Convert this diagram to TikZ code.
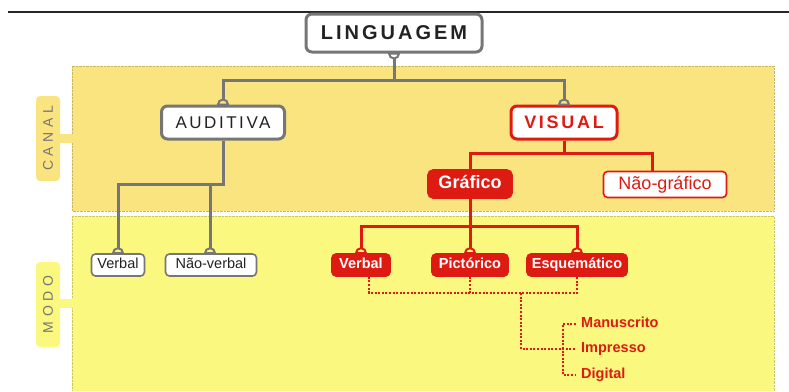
\documentclass[tikz,border=0pt]{standalone}
\usepackage{fontspec}
\setmainfont{Liberation Sans}
\newfontfamily\spaced[LetterSpace=15]{Liberation Sans}
\newfontfamily\widespaced[LetterSpace=32]{Liberation Sans}
\usetikzlibrary{positioning}

\definecolor{linegray}{HTML}{767676}
\definecolor{mapred}{HTML}{DE1B13}
\definecolor{canalfill}{HTML}{F9E480}
\definecolor{modofill}{HTML}{FAF87F}
\definecolor{inktext}{HTML}{222222}

\tikzset{
  gline/.style={draw=linegray, line width=3pt},
  rline/.style={draw=mapred, line width=3pt},
  rdots/.style={draw=mapred, line width=2pt, dash pattern=on 2pt off 1.6pt},
  bigbox/.style={draw=linegray, fill=white, rounded corners=6pt,
    line width=3pt, inner sep=0pt, text=inktext},
  leafbox/.style={draw=linegray, fill=white, rounded corners=4pt,
    line width=1.6pt, inner sep=0pt, minimum height=22pt, text=inktext,
    text height=10.5pt, text depth=3pt, font=\fontsize{14.5}{16}\selectfont},
  redleaf/.style={draw=mapred, fill=mapred, rounded corners=4pt,
    line width=1.6pt, inner sep=0pt, minimum height=22pt, text=white,
    text height=10.5pt, text depth=3pt, font=\fontsize{14.5}{16}\selectfont\bfseries},
  kind/.style={anchor=west, inner sep=0pt, text=mapred,
    text height=10.5pt, text depth=3pt, font=\fontsize{14.5}{16}\selectfont\bfseries},
  tab/.style={text=linegray, rotate=90, font=\widespaced\fontsize{14}{16}\selectfont}
}
% hollow joint on top of a child box
\newcommand\bumpup[3]{\draw[fill=#3, draw=#2, line width=2pt]
  (#1) ++(-5pt,0) arc[start angle=180, end angle=0, radius=5pt] -- cycle;}

\begin{document}
\begin{tikzpicture}[x=1pt, y=-1pt]
\useasboundingbox (0,0) rectangle (789,391);
% page rule
\draw[line width=1.5pt, black!85] (8,12) -- (789,12);
% bands
\fill[canalfill] (72,66) rectangle (774,211);
\draw[canalfill!80!black, densely dotted, line width=0.4pt] (72,66) rectangle (774,211);
\fill[modofill] (72,216) rectangle (774,391);
\draw[modofill!80!black, densely dotted, line width=0.4pt] (72,216) -- (774,216) -- (774,391);
\draw[modofill!80!black, densely dotted, line width=0.4pt] (72,216) -- (72,391);
% tabs
\fill[canalfill, rounded corners=4pt] (36,96) rectangle (60,181);
\fill[canalfill] (59,134) rectangle (73,143);
\node[tab] (canal) at (48,138.5) {CANAL};
\fill[modofill, rounded corners=4pt] (36,262) rectangle (60,347);
\fill[modofill] (59,299) rectangle (73,308);
\node[tab] (modo) at (48,304.5) {MODO};

\node[bigbox, minimum width=176pt, minimum height=38pt,
  font=\spaced\fontsize{20}{22}\selectfont\bfseries] (ling) at (394,33) {LINGUAGEM};
\node[bigbox, minimum width=123pt, minimum height=33pt,
  font=\spaced\fontsize{17}{20}\selectfont] (aud) at (223,122.5) {AUDITIVA};
\node[bigbox, draw=mapred, text=mapred, minimum width=106pt, minimum height=33pt,
  font=\spaced\fontsize{18}{20}\selectfont\bfseries] (vis) at (564,122.5) {VISUAL};
\node[redleaf, minimum width=84pt, minimum height=28pt, rounded corners=5pt,
  text height=13pt, text depth=4pt,
  font=\fontsize{18}{20}\selectfont\bfseries] (graf) at (470,184) {Gráfico};
\node[leafbox, draw=mapred, text=mapred, minimum width=123pt, minimum height=26pt,
  text height=13pt, text depth=4pt,
  font=\fontsize{18}{20}\selectfont] (naog) at (665,184.5) {Não-gráfico};

\node[leafbox, minimum width=53pt] (verbg) at (118,265) {Verbal};
\node[leafbox, minimum width=91pt] (naov) at (211,265) {Não-verbal};
\node[redleaf, minimum width=58pt] (verbr) at (361,265) {Verbal};
\node[redleaf, minimum width=76pt] (pict) at (470,265) {Pictórico};
\node[redleaf, minimum width=100pt] (esq) at (577,265) {Esquemático};

\node[kind] (man) at (581,324) {Manuscrito};
\node[kind] (imp) at (581,349) {Impresso};
\node[kind] (dig) at (581,375) {Digital};

% tree
\draw[gline] (ling.south) -- ++(0,27) -| (aud.north);
\draw[gline] (ling.south) -- ++(0,27) -| (vis.north);
\draw[gline] (aud.south) -- ++(0,44) -| (verbg.north);
\draw[gline] (aud.south) -- ++(0,44) -| ([xshift=-1pt]naov.north);
\draw[rline] (vis.south) -- ++(0,13) -| (graf.north);
\draw[rline] (vis.south) -- ++(0,13) -| ([xshift=-13pt]naog.north);
\draw[rline] (graf.south) -- ++(0,28) -| (verbr.north);
\draw[rline] (graf.south) -- ++(0,28) -| (pict.north);
\draw[rline] (graf.south) -- ++(0,28) -| (esq.north);
% dotted links
\draw[rdots] ([xshift=8pt]verbr.south) -- ++(0,16) -| (esq.south);
\draw[rdots] (pict.south) -- ++(0,16);
\coordinate (split) at (521,293);
\draw[rdots] (split) |- ([xshift=-5pt]imp.west);
\draw[rdots] ([xshift=-5pt]man.west) -| ([xshift=-18pt]dig.west) -- ([xshift=-5pt]dig.west);

\bumpup{aud.north}{linegray}{canalfill}
\bumpup{vis.north}{linegray}{canalfill}
\bumpup{verbg.north}{linegray}{modofill}
\bumpup{[xshift=-1pt]naov.north}{linegray}{modofill}
\bumpup{verbr.north}{mapred}{modofill}
\bumpup{pict.north}{mapred}{modofill}
\bumpup{esq.north}{mapred}{modofill}
\draw[fill=white, draw=linegray, line width=2pt]
  (ling.south) ++(-5pt,0) arc[start angle=180, end angle=360, radius=5pt] -- cycle;
\end{tikzpicture}
\end{document}
